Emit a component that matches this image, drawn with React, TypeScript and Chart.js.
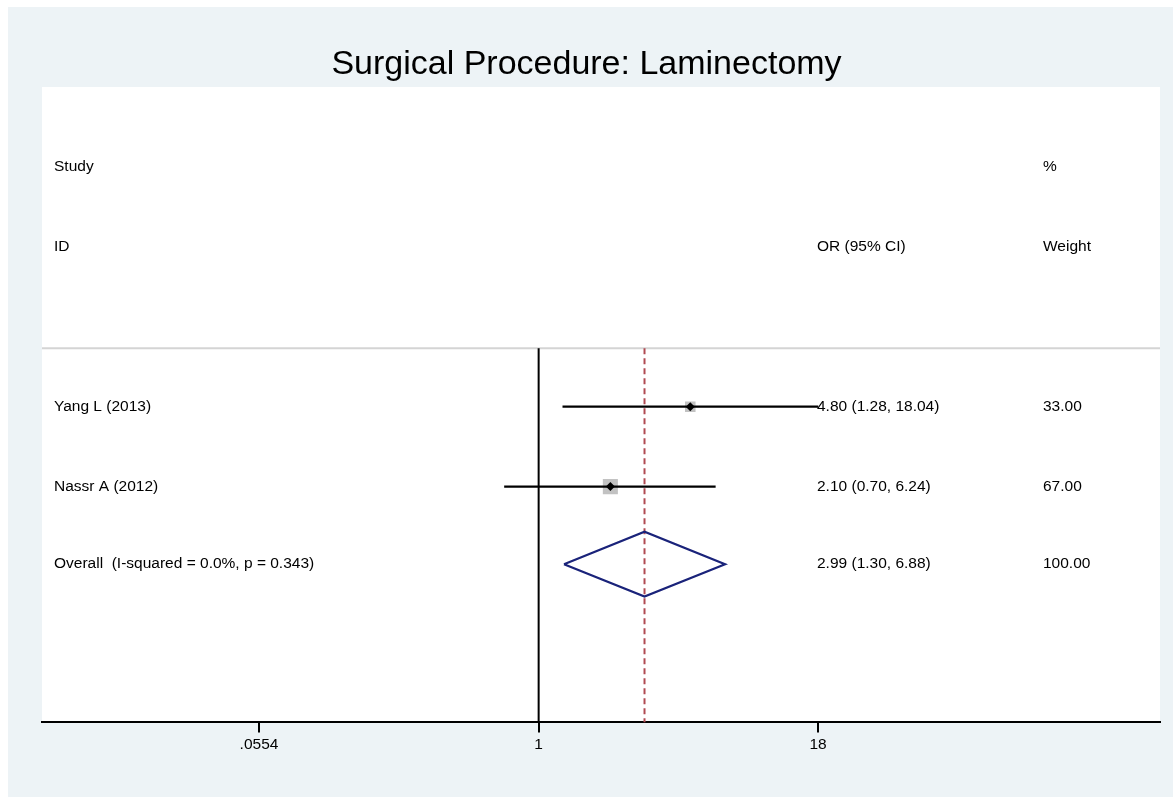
import React, { useEffect, useRef } from "react";
import { Chart, registerables } from "chart.js";

Chart.register(...registerables);

// ---- data ----
const titleText = "Surgical Procedure: Laminectomy";
const studyLabels = ["Yang L (2013)", "Nassr A (2012)"];
const orEstimates = [4.8, 2.1];
const ciLower = [1.28, 0.7];
const ciUpper = [18.04, 6.24];
const weightPct = [33.0, 67.0];
const overallLabel = "Overall  (I-squared = 0.0%, p = 0.343)";
const overallEstimate = [2.99];
const overallLower = [1.3];
const overallUpper = [6.88];
const overallWeight = [100.0];
const tickValues = [0.0554, 1, 18];
const tickLabels = [".0554", "1", "18"];

// ---- layout (row positions on the y scale) ----
const ROW_HEAD1 = 1;
const ROW_HEAD2 = 2;
const ROW_SEP = 3.27;
const studyRows = [4, 5];
const ROW_OVERALL = 5.97;
const Y_MAX = 7.95;
const X_MIN = 0.00587;
const X_MAX = 619;
const DIAMOND_HALF = 0.405;

const FONT = "'Liberation Sans', Arial, Helvetica, sans-serif";
const fmt = (v: number) => v.toFixed(2);

export default function App() {
  const ref = useRef<HTMLCanvasElement | null>(null);

  useEffect(() => {
    if (!ref.current) return;

    const datasets: any[] = [];

    // separator line
    datasets.push({
      type: "line",
      order: 10,
      data: [
        { x: X_MIN, y: ROW_SEP },
        { x: X_MAX, y: ROW_SEP },
      ],
      borderColor: "#d4d4d4",
      borderWidth: 2,
      pointRadius: 0,
    });
    // null line at OR = 1
    datasets.push({
      type: "line",
      order: 9,
      data: [
        { x: 1, y: ROW_SEP },
        { x: 1, y: Y_MAX },
      ],
      borderColor: "#000000",
      borderWidth: 2,
      pointRadius: 0,
    });
    // overall estimate dashed line
    datasets.push({
      type: "line",
      order: 8,
      data: [
        { x: overallEstimate[0], y: ROW_SEP },
        { x: overallEstimate[0], y: Y_MAX },
      ],
      borderColor: "#b04a52",
      borderWidth: 2,
      borderDash: [6, 4],
      pointRadius: 0,
    });
    // weight squares
    datasets.push({
      type: "scatter",
      order: 7,
      data: orEstimates.map((v, i) => ({ x: v, y: studyRows[i] })),
      pointStyle: "rect",
      pointRadius: weightPct.map((w) => 1.3 * Math.sqrt(w)),
      backgroundColor: "#c2c2c2",
      borderWidth: 0,
    });
    // CI lines
    studyLabels.forEach((_, i) => {
      datasets.push({
        type: "line",
        order: 6,
        data: [
          { x: ciLower[i], y: studyRows[i] },
          { x: ciUpper[i], y: studyRows[i] },
        ],
        borderColor: "#000000",
        borderWidth: 2.2,
        pointRadius: 0,
      });
    });
    // overall diamond
    datasets.push({
      type: "line",
      order: 5,
      data: [
        { x: overallLower[0], y: ROW_OVERALL },
        { x: overallEstimate[0], y: ROW_OVERALL - DIAMOND_HALF },
        { x: overallUpper[0], y: ROW_OVERALL },
        { x: overallEstimate[0], y: ROW_OVERALL + DIAMOND_HALF },
        { x: overallLower[0], y: ROW_OVERALL },
      ],
      borderColor: "#1a237a",
      borderWidth: 2.2,
      pointRadius: 0,
      tension: 0,
    });
    // point estimate diamonds
    datasets.push({
      type: "scatter",
      order: 1,
      data: orEstimates.map((v, i) => ({ x: v, y: studyRows[i] })),
      pointStyle: "rectRot",
      pointRadius: 4.5,
      backgroundColor: "#000000",
      borderWidth: 0,
    });

    const bgPlugin = {
      id: "bg",
      beforeDraw(chart: any) {
        const { ctx, chartArea } = chart;
        ctx.save();
        ctx.fillStyle = "#edf3f6";
        ctx.fillRect(0, 0, chart.width, chart.height);
        ctx.fillStyle = "#ffffff";
        ctx.fillRect(
          chartArea.left,
          chartArea.top,
          chartArea.right - chartArea.left,
          chartArea.bottom - chartArea.top
        );
        ctx.fillStyle = "#000000";
        ctx.font = `34px ${FONT}`;
        ctx.textAlign = "center";
        ctx.textBaseline = "middle";
        ctx.fillText(titleText, chart.width / 2 - 4, 58);
        ctx.restore();
      },
    };

    const textPlugin = {
      id: "forestText",
      afterDatasetsDraw(chart: any) {
        const { ctx, chartArea } = chart;
        const ys = chart.scales.y;
        const colStudy = chartArea.left + 12;
        const colOR = chartArea.left + 775;
        const colW = chartArea.left + 1001;
        ctx.save();
        ctx.fillStyle = "#000000";
        ctx.font = `15.5px ${FONT}`;
        ctx.textBaseline = "middle";
        ctx.textAlign = "left";
        const put = (t: string, x: number, row: number) =>
          ctx.fillText(t, x, ys.getPixelForValue(row));
        put("Study", colStudy, ROW_HEAD1);
        put("ID", colStudy, ROW_HEAD2);
        put("OR (95% CI)", colOR, ROW_HEAD2);
        put("%", colW, ROW_HEAD1);
        put("Weight", colW, ROW_HEAD2);
        studyLabels.forEach((s, i) => {
          put(s, colStudy, studyRows[i]);
          put(
            `${fmt(orEstimates[i])} (${fmt(ciLower[i])}, ${fmt(ciUpper[i])})`,
            colOR,
            studyRows[i]
          );
          put(fmt(weightPct[i]), colW, studyRows[i]);
        });
        put(overallLabel, colStudy, ROW_OVERALL);
        put(
          `${fmt(overallEstimate[0])} (${fmt(overallLower[0])}, ${fmt(overallUpper[0])})`,
          colOR,
          ROW_OVERALL
        );
        put(fmt(overallWeight[0]), colW, ROW_OVERALL);
        ctx.restore();
      },
    };

    const chart = new Chart(ref.current, {
      type: "scatter",
      data: { datasets },
      plugins: [bgPlugin, textPlugin],
      options: {
        animation: false,
        responsive: true,
        maintainAspectRatio: false,
        layout: { padding: { left: 34, right: 13, top: 80, bottom: 40 } },
        plugins: {
          legend: { display: false },
          tooltip: { enabled: false },
          title: { display: false },
        },
        scales: {
          x: {
            type: "logarithmic",
            min: X_MIN,
            max: X_MAX,
            afterBuildTicks(scale: any) {
              scale.ticks = tickValues.map((v) => ({ value: v }));
            },
            grid: {
              display: true,
              drawOnChartArea: false,
              drawTicks: true,
              tickLength: 10,
              tickColor: "#000000",
              lineWidth: 2,
            },
            border: { display: true, color: "#000000", width: 2 },
            ticks: {
              autoSkip: false,
              maxRotation: 0,
              padding: 3,
              color: "#000000",
              font: { family: FONT, size: 15.5 },
              callback: (_v: any, i: number) => tickLabels[i],
            },
          },
          y: {
            type: "linear",
            display: false,
            min: 0,
            max: Y_MAX,
            reverse: true,
          },
        },
      },
    });
    return () => chart.destroy();
  }, []);

  return (
    <div style={{ position: "fixed", left: 8, top: 7, right: 0, bottom: 0 }}>
      <canvas ref={ref} />
    </div>
  );
}
